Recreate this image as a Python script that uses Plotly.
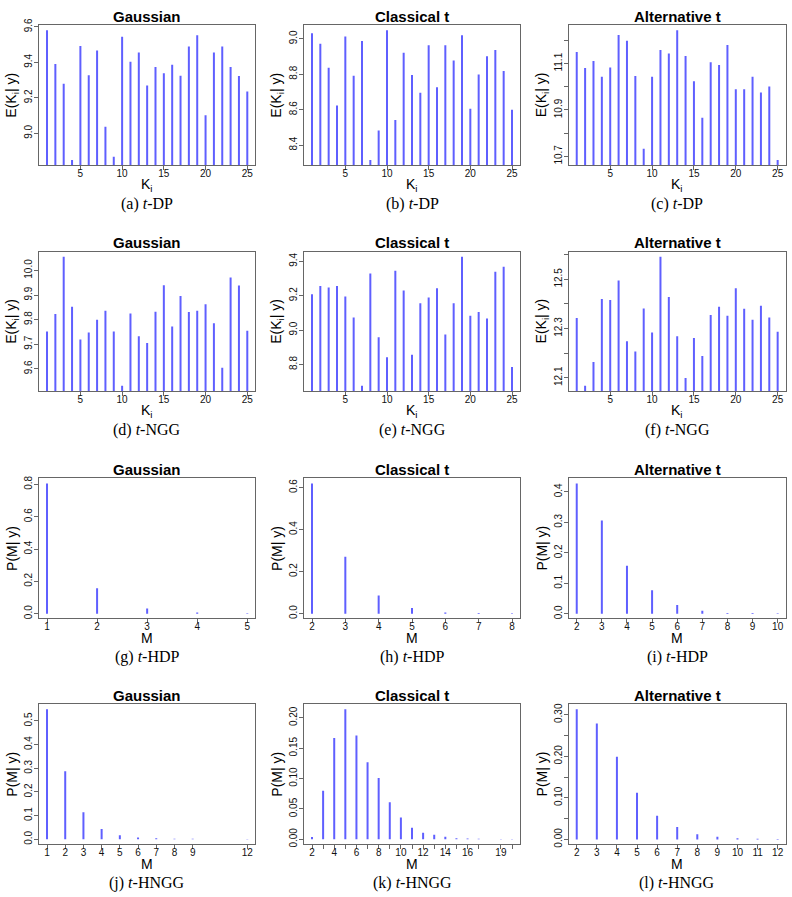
import plotly.graph_objects as go

# ---------------- data ----------------
K = [1, 2, 3, 4, 5, 6, 7, 8, 9, 10, 11, 12, 13, 14, 15, 16, 17, 18, 19, 20, 21, 22, 23, 24, 25]

dp_gaussian = [9.581, 9.391, 9.279, 8.849, 9.493, 9.327, 9.467, 9.037, 8.867, 9.544,
               9.404, 9.456, 9.269, 9.374, 9.338, 9.387, 9.325, 9.490, 9.553, 9.101,
               9.456, 9.490, 9.374, 9.323, 9.235]
dp_classical = [9.032, 8.972, 8.837, 8.624, 9.013, 8.791, 8.987, 8.316, 8.482, 9.048,
                8.542, 8.921, 8.796, 8.695, 8.963, 8.727, 8.963, 8.878, 9.020, 8.606,
                8.798, 8.902, 8.937, 8.819, 8.600]
dp_alternative = [11.150, 11.081, 11.111, 11.043, 11.083, 11.224, 11.199, 11.047, 10.733, 11.044,
                  11.159, 11.144, 11.244, 11.133, 11.024, 10.866, 11.106, 11.094, 11.181, 10.990,
                  10.990, 11.043, 10.976, 11.001, 10.684]

ngg_gaussian = [9.752, 9.823, 10.056, 9.852, 9.719, 9.748, 9.800, 9.836, 9.752, 9.531,
                9.825, 9.733, 9.705, 9.832, 9.940, 9.772, 9.896, 9.831, 9.836, 9.863,
                9.785, 9.604, 9.971, 9.939, 9.755]
ngg_classical = [9.208, 9.256, 9.248, 9.256, 9.196, 9.074, 8.676, 9.330, 8.958, 8.842,
                 9.345, 9.231, 8.857, 9.156, 9.190, 9.244, 8.975, 9.156, 9.427, 9.084,
                 9.105, 9.067, 9.339, 9.368, 8.785]
ngg_alternative = [12.343, 12.067, 12.164, 12.420, 12.416, 12.495, 12.248, 12.207, 12.381, 12.284,
                   12.592, 12.428, 12.269, 12.099, 12.261, 12.188, 12.355, 12.388, 12.352, 12.464,
                   12.380, 12.336, 12.393, 12.345, 12.287]

hdp_gaussian_M = [1, 2, 3, 4, 5]
hdp_gaussian_P = [0.805, 0.158, 0.033, 0.008, 0.003]
hdp_classical_M = [2, 3, 4, 5, 6, 7, 8]
hdp_classical_P = [0.619, 0.271, 0.086, 0.027, 0.005, 0.003, 0.002]
hdp_alternative_M = [2, 3, 4, 5, 6, 7, 8, 9, 10]
hdp_alternative_P = [0.427, 0.306, 0.158, 0.077, 0.029, 0.010, 0.003, 0.003, 0.002]

hngg_gaussian_M = [1, 2, 3, 4, 5, 6, 7, 8, 9, 12]
hngg_gaussian_P = [0.549, 0.287, 0.114, 0.044, 0.017, 0.008, 0.004, 0.002, 0.002, 0.001]
hngg_classical_M = [2, 3, 4, 5, 6, 7, 8, 9, 10, 11, 12, 13, 14, 15, 16, 17, 19, 20]
hngg_classical_P = [0.004, 0.080, 0.167, 0.214, 0.171, 0.127, 0.101, 0.061, 0.036, 0.019,
                    0.011, 0.0076, 0.0043, 0.002, 0.0016, 0.001, 0.0005, 0.0005]
hngg_alternative_M = [2, 3, 4, 5, 6, 7, 8, 9, 10, 11, 12]
hngg_alternative_P = [0.313, 0.279, 0.199, 0.112, 0.057, 0.030, 0.0127, 0.0063, 0.003, 0.0016, 0.0008]

titles = ["Gaussian", "Classical t", "Alternative t"]
captions = ["(a) <i>t</i>-DP", "(b) <i>t</i>-DP", "(c) <i>t</i>-DP",
            "(d) <i>t</i>-NGG", "(e) <i>t</i>-NGG", "(f) <i>t</i>-NGG",
            "(g) <i>t</i>-HDP", "(h) <i>t</i>-HDP", "(i) <i>t</i>-HDP",
            "(j) <i>t</i>-HNGG", "(k) <i>t</i>-HNGG", "(l) <i>t</i>-HNGG"]

k_ticks = [5, 10, 15, 20, 25]
k_labels = ["5", "10", "15", "20", "25"]

# y ticks: labelled values, labels, and unlabelled minor values
panels = [
    dict(x=K, y=dp_gaussian, yt=[9.0, 9.2, 9.4, 9.6], ytt=["9.0", "9.2", "9.4", "9.6"], ym=[],
         xt=k_ticks, xtt=k_labels, xm=[], kind="K"),
    dict(x=K, y=dp_classical, yt=[8.4, 8.6, 8.8, 9.0], ytt=["8.4", "8.6", "8.8", "9.0"], ym=[],
         xt=k_ticks, xtt=k_labels, xm=[], kind="K"),
    dict(x=K, y=dp_alternative, yt=[10.7, 10.9, 11.1], ytt=["10.7", "10.9", "11.1"], ym=[10.8, 11.0, 11.2],
         xt=k_ticks, xtt=k_labels, xm=[], kind="K"),
    dict(x=K, y=ngg_gaussian, yt=[9.6, 9.7, 9.8, 9.9, 10.0], ytt=["9.6", "9.7", "9.8", "9.9", "10.0"], ym=[],
         xt=k_ticks, xtt=k_labels, xm=[], kind="K"),
    dict(x=K, y=ngg_classical, yt=[8.8, 9.0, 9.2, 9.4], ytt=["8.8", "9.0", "9.2", "9.4"], ym=[],
         xt=k_ticks, xtt=k_labels, xm=[], kind="K"),
    dict(x=K, y=ngg_alternative, yt=[12.1, 12.3, 12.5], ytt=["12.1", "12.3", "12.5"], ym=[12.2, 12.4, 12.6],
         xt=k_ticks, xtt=k_labels, xm=[], kind="K"),
    dict(x=hdp_gaussian_M, y=hdp_gaussian_P, yt=[0, 0.2, 0.4, 0.6, 0.8], ytt=["0.0", "0.2", "0.4", "0.6", "0.8"], ym=[],
         xt=hdp_gaussian_M, xtt=["1", "2", "3", "4", "5"], xm=[], kind="M"),
    dict(x=hdp_classical_M, y=hdp_classical_P, yt=[0, 0.2, 0.4, 0.6], ytt=["0.0", "0.2", "0.4", "0.6"], ym=[],
         xt=hdp_classical_M, xtt=["2", "3", "4", "5", "6", "7", "8"], xm=[], kind="M"),
    dict(x=hdp_alternative_M, y=hdp_alternative_P, yt=[0, 0.1, 0.2, 0.3, 0.4], ytt=["0.0", "0.1", "0.2", "0.3", "0.4"], ym=[],
         xt=hdp_alternative_M, xtt=["2", "3", "4", "5", "6", "7", "8", "9", "10"], xm=[], kind="M"),
    dict(x=hngg_gaussian_M, y=hngg_gaussian_P, yt=[0, 0.1, 0.2, 0.3, 0.4, 0.5], ytt=["0.0", "0.1", "0.2", "0.3", "0.4", "0.5"], ym=[],
         xt=hngg_gaussian_M, xtt=["1", "2", "3", "4", "5", "6", "7", "8", "9", "12"], xm=[], kind="M"),
    dict(x=hngg_classical_M, y=hngg_classical_P, yt=[0, 0.05, 0.10, 0.15, 0.20], ytt=["0.00", "0.05", "0.10", "0.15", "0.20"], ym=[],
         xt=[2, 4, 6, 8, 10, 12, 14, 16, 19], xtt=["2", "4", "6", "8", "10", "12", "14", "16", "19"],
         xm=[3, 5, 7, 9, 11, 13, 15, 17, 20], kind="M"),
    dict(x=hngg_alternative_M, y=hngg_alternative_P, yt=[0, 0.10, 0.20, 0.30], ytt=["0.00", "0.10", "0.20", "0.30"], ym=[0.05, 0.15, 0.25],
         xt=hngg_alternative_M, xtt=["2", "3", "4", "5", "6", "7", "8", "9", "10", "11", "12"], xm=[], kind="M"),
]

# ---------------- layout geometry (pixels) ----------------
W, H = 792, 897
cols_px = [(39, 255.3), (304, 520), (568.7, 785.7)]
rows_px = [(18.3, 160), (247.3, 388.3), (476.7, 618.3), (705, 846.7)]

SANS = "Liberation Sans, Arial, Helvetica, sans-serif"
SERIF = "Liberation Serif, Times New Roman, serif"
BOX = "#666666"
SPIKE = "rgb(95,95,255)"

fig = go.Figure()
annotations = []


def rng(v):
    lo, hi = min(v), max(v)
    pad = 0.04 * (hi - lo)
    return [lo - pad, hi + pad]


for i, p in enumerate(panels):
    r, c = divmod(i, 3)
    x0, x1 = cols_px[c]
    t0, b0 = rows_px[r]
    ax = "" if i == 0 else str(i + 1)
    xs, ys = [], []
    for xv, yv in zip(p["x"], p["y"]):
        xs += [xv, xv, None]
        ys += [0, yv, None]
    fig.add_trace(go.Scatter(x=xs, y=ys, mode="lines", line=dict(color=SPIKE, width=2),
                             xaxis="x" + ax, yaxis="y" + ax, showlegend=False, hoverinfo="skip"))
    common = dict(showline=True, mirror=True, linecolor=BOX, linewidth=1,
                  ticks="outside", ticklen=4, tickcolor=BOX, showgrid=False, zeroline=False,
                  tickfont=dict(family=SANS, size=10, color="#111"), fixedrange=True)
    xaxis = dict(domain=[x0 / W, x1 / W], anchor="y" + ax, range=rng(p["x"]),
                 tickmode="array", tickvals=p["xt"], ticktext=p["xtt"], ticklabelstandoff=-5,
                 **common)
    if p["xm"]:
        xaxis["minor"] = dict(tickmode="array", tickvals=p["xm"], ticks="outside", ticklen=4,
                              tickcolor=BOX, showgrid=False)
    yaxis = dict(domain=[1 - b0 / H, 1 - t0 / H], anchor="x" + ax, range=rng(p["y"]),
                 tickmode="array", tickvals=p["yt"], ticktext=p["ytt"], tickangle=-90,
                 ticklabelstandoff=-2, **common)
    if p["ym"]:
        yaxis["minor"] = dict(tickmode="array", tickvals=p["ym"], ticks="outside", ticklen=4,
                              tickcolor=BOX, showgrid=False)
    fig.layout["xaxis" + ax] = xaxis
    fig.layout["yaxis" + ax] = yaxis

    cx = (x0 + x1) / 2
    annotations.append(dict(text="<b>" + titles[c] + "</b>", x=cx / W, y=1 - (t0 - 9) / H,
                            xref="paper", yref="paper", showarrow=False, xanchor="center", yanchor="middle",
                            font=dict(family=SANS, size=15, color="black")))
    if p["kind"] == "K":
        ylab, xlab = "E(K<sub>i</sub>| y)", "K<sub>i</sub>"
    else:
        ylab, xlab = "P(M| y)", "M"
    annotations.append(dict(text=ylab, x=(x0 - 26.5) / W, y=1 - ((t0 + b0) / 2) / H, textangle=-90,
                            xref="paper", yref="paper", showarrow=False, xanchor="center", yanchor="middle",
                            font=dict(family=SANS, size=14, color="black")))
    annotations.append(dict(text=xlab, x=cx / W, y=1 - (b0 + 20) / H,
                            xref="paper", yref="paper", showarrow=False, xanchor="center", yanchor="middle",
                            font=dict(family=SANS, size=14, color="black")))
    annotations.append(dict(text=captions[i], x=cx / W, y=1 - (b0 + 39.5) / H,
                            xref="paper", yref="paper", showarrow=False, xanchor="center", yanchor="middle",
                            font=dict(family=SERIF, size=16, color="black")))

fig.update_layout(width=W, height=H, margin=dict(l=0, r=0, t=0, b=0),
                  paper_bgcolor="white", plot_bgcolor="white", annotations=annotations)

fig.write_html("out.html", config={"displayModeBar": False},
               post_script=["document.body.style.margin='0';document.body.style.overflow='hidden';"])
